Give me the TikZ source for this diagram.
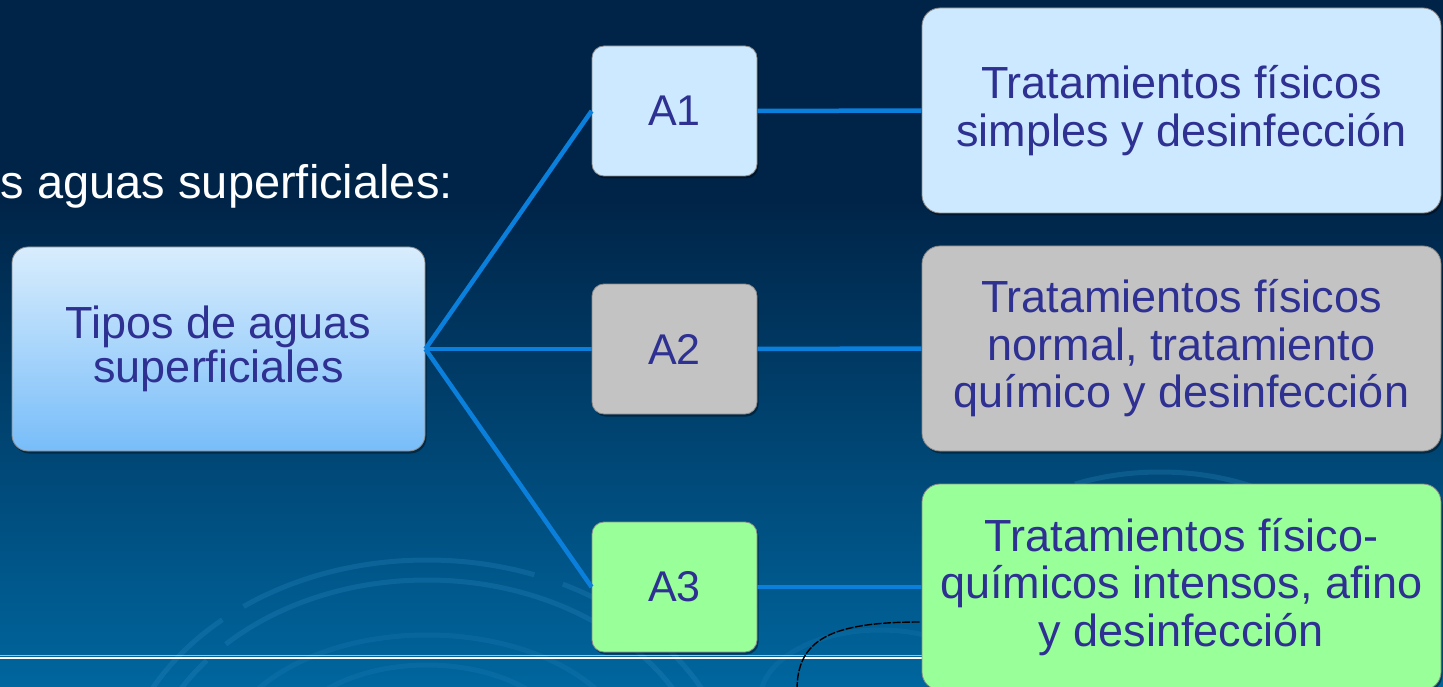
\documentclass[tikz,border=0pt]{standalone}
\usepackage{fontspec}
\setmainfont{Liberation Sans}
\usetikzlibrary{shadows}
\definecolor{bgtop}{HTML}{002448}
\definecolor{bgbot}{HTML}{00669E}
\definecolor{txt}{HTML}{2E3192}
\definecolor{lblue}{HTML}{CCE9FF}
\definecolor{lgray}{HTML}{C3C3C3}
\definecolor{lgreen}{HTML}{99FF99}
\definecolor{tiptop}{HTML}{D8EDFD}
\definecolor{tipbot}{HTML}{78BDF9}
\definecolor{conn}{HTML}{0A80DC}
\definecolor{ring}{HTML}{2A86BE}
\begin{document}
\begin{tikzpicture}[x=1pt,y=-1pt,
  box/.style={rounded corners=#1, draw=black!45, line width=0.8pt, text=txt,
    align=center, inner sep=0pt,
    drop shadow={shadow xshift=1.5pt, shadow yshift=-2.5pt, opacity=0.4, fill=black}},
  abox/.style={box=12pt, minimum width=165pt, minimum height=130pt,
    font=\fontsize{43}{43}\selectfont},
  rbox/.style={box=18pt, minimum width=519pt, minimum height=205pt,
    font=\fontsize{45}{47.5}\selectfont},
  link/.style={draw=conn, line width=4.5pt},
  ringline/.style={draw=ring, opacity=0.3, line width=5pt}
]
\useasboundingbox (0,0) rectangle (1443,687);
\begin{scope}
\clip (0,0) rectangle (1443,687);
% background
\fill[bgtop] (0,0) rectangle (1443,201);
\shade[top color=bgtop, bottom color=bgbot] (0,200) rectangle (1443,687);
% decorative rings
\draw[ringline, dash pattern=on 300pt off 30pt on 200pt off 25pt] (427,800) ellipse [x radius=310, y radius=240];
\draw[ringline, dash pattern=on 250pt off 25pt on 400pt off 30pt] (427,800) ellipse [x radius=285, y radius=220];
\draw[ringline, opacity=0.2] (427,760) ellipse [x radius=205, y radius=125];
\draw[ringline, opacity=0.2] (427,760) ellipse [x radius=150, y radius=95];
\draw[ringline, dash pattern=on 120pt off 18pt on 400pt off 20pt] (1160,600) ellipse [x radius=200, y radius=128];
\draw[ringline, opacity=0.18] (880,700) ellipse [x radius=120, y radius=70];
% bottom white rule
\draw[white, opacity=0.6, line width=0.8pt] (0,655.5) -- (922,655.5);
\draw[white, line width=1.6pt] (0,657.8) -- (922,657.8);
% black dashed arc
\draw[black, line width=1.4pt, dash pattern=on 8pt off 1.5pt] (797,690) .. controls (797,640) and (830,622) .. (920,622);
\end{scope}
% title
\node[anchor=base east, text=white, inner sep=0pt, font=\fontsize{47}{47}\selectfont] (title) at (453,199) {s aguas superficiales:};
% nodes
\node[box=16pt, top color=tiptop, bottom color=tipbot, minimum width=413pt, minimum height=204pt,
  font=\fontsize{45}{44}\selectfont] (tipos) at (218.5,349) {Tipos de aguas\\superficiales};
\node[abox, fill=lblue] (a1) at (674.5,111) {A1};
\node[abox, fill=lgray] (a2) at (674.5,349) {A2};
\node[abox, fill=lgreen] (a3) at (674.5,587) {A3};
\node[rbox, fill=lblue] (r1) at (1181.5,110.5) {Tratamientos físicos\\simples y desinfección};
\node[rbox, fill=lgray] (r2) at (1181.5,348.5) {Tratamientos físicos\\normal, tratamiento\\químico y desinfección};
\node[rbox, fill=lgreen, minimum height=206pt] (r3) at (1181.5,587) {Tratamientos físico-\\químicos intensos, afino\\y desinfección};
% connectors
\draw[link] (tipos.east) -- (a1.west);
\draw[link] (tipos.east) -- (a2.west);
\draw[link] (tipos.east) -- (a3.west);
\draw[link] (a1.east) -- (r1.west);
\draw[link] (a2.east) -- (r2.west);
\draw[link] (a3.east) -- (r3.west);
\end{tikzpicture}
\end{document}
